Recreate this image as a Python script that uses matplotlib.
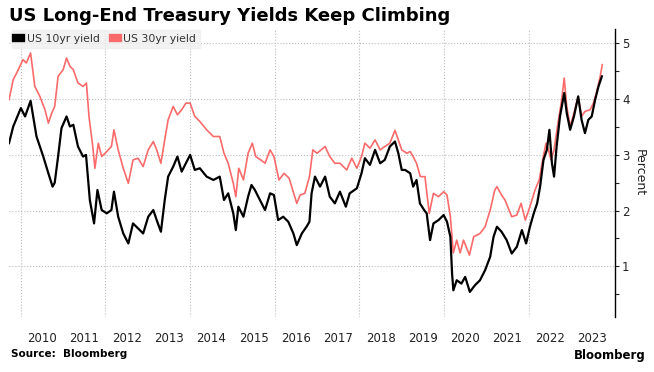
import matplotlib.pyplot as plt
from matplotlib.ticker import FixedLocator, NullFormatter

# dates as decimal years, values in percent
t10 = [2009.72, 2009.82, 2010.0, 2010.1, 2010.23, 2010.37, 2010.53, 2010.65, 2010.75, 2010.8,
       2010.88, 2010.96, 2011.08, 2011.16, 2011.24, 2011.35, 2011.47, 2011.54, 2011.59, 2011.63,
       2011.73, 2011.81, 2011.91, 2012.03, 2012.14, 2012.2, 2012.3, 2012.42, 2012.54, 2012.65,
       2012.77, 2012.89, 2013.01, 2013.13, 2013.21, 2013.31, 2013.4, 2013.48, 2013.6, 2013.7,
       2013.8, 2013.9, 2014.0, 2014.11, 2014.23, 2014.39, 2014.55, 2014.7, 2014.8, 2014.9,
       2015.02, 2015.08, 2015.14, 2015.26, 2015.37, 2015.45, 2015.53, 2015.65, 2015.77, 2015.89,
       2015.98, 2016.08, 2016.2, 2016.32, 2016.44, 2016.52, 2016.64, 2016.75, 2016.82, 2016.87,
       2016.95, 2017.07, 2017.19, 2017.3, 2017.42, 2017.54, 2017.68, 2017.77, 2017.94, 2018.05,
       2018.13, 2018.25, 2018.37, 2018.49, 2018.6, 2018.72, 2018.84, 2018.92, 2019.0, 2019.08,
       2019.2, 2019.27, 2019.35, 2019.43, 2019.53, 2019.59, 2019.67, 2019.75, 2019.87, 2019.99,
       2020.07, 2020.15, 2020.19, 2020.22, 2020.3, 2020.41, 2020.5, 2020.61, 2020.73, 2020.85,
       2020.97, 2021.09, 2021.17, 2021.25, 2021.36, 2021.48, 2021.6, 2021.72, 2021.84, 2021.94,
       2022.03, 2022.12, 2022.2, 2022.27, 2022.35, 2022.43, 2022.49, 2022.55, 2022.6, 2022.66,
       2022.74, 2022.84, 2022.9, 2022.98, 2023.07, 2023.17, 2023.25, 2023.33, 2023.41, 2023.49,
       2023.57, 2023.65, 2023.73]
y10 = [3.21, 3.51, 3.84, 3.69, 3.97, 3.33, 2.97, 2.67, 2.43, 2.5,
       2.97, 3.48, 3.69, 3.51, 3.54, 3.15, 2.97, 3.0, 2.55, 2.19,
       1.77, 2.37, 2.01, 1.95, 2.01, 2.34, 1.89, 1.59, 1.41, 1.77,
       1.68, 1.59, 1.89, 2.01, 1.83, 1.62, 2.19, 2.61, 2.79, 2.97,
       2.70, 2.85, 3.0, 2.73, 2.76, 2.61, 2.55, 2.61, 2.19, 2.31,
       1.95, 1.65, 2.07, 1.89, 2.25, 2.46, 2.37, 2.19, 2.01, 2.31,
       2.28, 1.83, 1.89, 1.8, 1.59, 1.38, 1.59, 1.71, 1.8, 2.31,
       2.61, 2.43, 2.61, 2.25, 2.13, 2.34, 2.07, 2.31, 2.4, 2.67,
       2.94, 2.82, 3.09, 2.85, 2.91, 3.15, 3.24, 3.03, 2.73, 2.73,
       2.67, 2.43, 2.55, 2.13, 2.01, 1.95, 1.47, 1.77, 1.83, 1.92,
       1.8, 1.53, 0.87, 0.57, 0.75, 0.69, 0.81, 0.54, 0.66, 0.75,
       0.93, 1.17, 1.53, 1.71, 1.62, 1.47, 1.23, 1.35, 1.65, 1.41,
       1.71, 1.95, 2.13, 2.43, 2.91, 3.09, 3.45, 2.85, 2.61, 3.15,
       3.69, 4.11, 3.75, 3.45, 3.69, 4.05, 3.63, 3.39, 3.63, 3.69,
       3.99, 4.23, 4.41]

t30 = [2009.72, 2009.82, 2009.94, 2010.05, 2010.13, 2010.23, 2010.33, 2010.45, 2010.57, 2010.65,
       2010.73, 2010.8, 2010.88, 2011.0, 2011.08, 2011.16, 2011.24, 2011.35, 2011.47, 2011.55,
       2011.61, 2011.7, 2011.75, 2011.83, 2011.91, 2012.03, 2012.14, 2012.2, 2012.3, 2012.42,
       2012.54, 2012.65, 2012.77, 2012.89, 2013.01, 2013.13, 2013.21, 2013.31, 2013.4, 2013.48,
       2013.6, 2013.7, 2013.8, 2013.9, 2014.0, 2014.11, 2014.23, 2014.39, 2014.55, 2014.7,
       2014.8, 2014.9, 2015.02, 2015.08, 2015.15, 2015.26, 2015.37, 2015.47, 2015.55, 2015.67,
       2015.77, 2015.89, 2015.98, 2016.1, 2016.22, 2016.34, 2016.52, 2016.6, 2016.71, 2016.82,
       2016.9, 2017.0, 2017.19, 2017.3, 2017.42, 2017.54, 2017.7, 2017.82, 2017.94, 2018.05,
       2018.13, 2018.25, 2018.37, 2018.49, 2018.6, 2018.72, 2018.84, 2018.92, 2019.0, 2019.12,
       2019.2, 2019.27, 2019.35, 2019.44, 2019.55, 2019.65, 2019.75, 2019.87, 2019.99, 2020.07,
       2020.15, 2020.22, 2020.3, 2020.38, 2020.46, 2020.6, 2020.7, 2020.85, 2020.97, 2021.09,
       2021.2, 2021.25, 2021.36, 2021.44, 2021.6, 2021.72, 2021.82, 2021.92, 2022.03, 2022.15,
       2022.25, 2022.33, 2022.41, 2022.47, 2022.53, 2022.6, 2022.68, 2022.78, 2022.84, 2022.9,
       2022.98, 2023.07, 2023.17, 2023.25, 2023.33, 2023.45, 2023.53, 2023.6, 2023.69, 2023.74]
y30 = [3.99, 4.35, 4.53, 4.71, 4.65, 4.83, 4.23, 4.05, 3.81, 3.57,
       3.75, 3.87, 4.41, 4.53, 4.74, 4.59, 4.53, 4.29, 4.23, 4.29,
       3.69, 3.15, 2.76, 3.21, 2.97, 3.06, 3.15, 3.45, 3.09, 2.76,
       2.49, 2.91, 2.94, 2.79, 3.09, 3.24, 3.09, 2.85, 3.27, 3.63,
       3.87, 3.72, 3.81, 3.93, 3.93, 3.69, 3.6, 3.45, 3.33, 3.33,
       3.03, 2.85, 2.49, 2.25, 2.76, 2.55, 3.03, 3.21, 2.97, 2.91,
       2.85, 3.09, 2.97, 2.55, 2.67, 2.58, 2.13, 2.28, 2.31, 2.61,
       3.09, 3.03, 3.15, 2.97, 2.85, 2.85, 2.73, 2.94, 2.76, 2.97,
       3.21, 3.12, 3.27, 3.09, 3.15, 3.21, 3.44, 3.27, 3.09, 3.03,
       3.06, 2.97, 2.85, 2.61, 2.61, 1.95, 2.31, 2.25, 2.34, 2.28,
       1.89, 1.24, 1.47, 1.24, 1.47, 1.2, 1.53, 1.59, 1.71, 2.01,
       2.37, 2.43, 2.28, 2.19, 1.89, 1.92, 2.13, 1.83, 2.07, 2.37,
       2.55, 2.91, 3.21, 3.09, 2.91, 3.09, 3.51, 3.99, 4.38, 3.87,
       3.51, 3.75, 4.05, 3.69, 3.78, 3.81, 3.93, 4.11, 4.41, 4.62]

years = list(range(2010, 2024))
grid_years = [2010, 2012, 2014, 2016, 2018, 2020, 2022]

red = '#f96b6b'

fig = plt.figure(figsize=(6.54, 3.72), dpi=100)
ax = fig.add_axes([9 / 654, 1 - 317 / 372, (615 - 9) / 654, (317 - 29) / 372])

ax.plot(t30, y30, color=red, lw=1.2, zorder=3)
ax.plot(t10, y10, color='black', lw=1.6, zorder=4)

ax.set_xlim(2009.72, 2024.04)
ax.set_ylim(0.09, 5.26)

for s in ['left', 'top', 'bottom']:
    ax.spines[s].set_visible(False)
ax.spines['right'].set_linewidth(1.0)

ax.yaxis.tick_right()
ax.yaxis.set_label_position('right')
ax.set_yticks([1, 2, 3, 4, 5])
ax.yaxis.set_minor_locator(FixedLocator([0.5, 1.5, 2.5, 3.5, 4.5]))
ax.tick_params(axis='y', which='both', direction='out', length=3, width=0.8,
               labelsize=8.5, pad=2, colors='#222222')
ax.set_ylabel('Percent', rotation=270, labelpad=12, fontsize=9, color='#222222')

ax.set_xticks([y + 0.5 for y in years])
ax.set_xticklabels([str(y) for y in years])
ax.xaxis.set_minor_locator(FixedLocator(grid_years))
ax.xaxis.set_minor_formatter(NullFormatter())
ax.tick_params(axis='x', which='both', length=0, labelsize=8.5, pad=11, colors='#222222')

ax.grid(axis='y', which='major', color='#bbbbbb', ls=':', lw=0.8)
ax.grid(axis='x', which='minor', color='#bbbbbb', ls=':', lw=0.8)
ax.set_axisbelow(True)

# legend box
leg = ax.legend(['US 10yr yield', 'US 30yr yield'], loc='upper left',
                bbox_to_anchor=(2 / 606, 1.0), ncol=2, fontsize=7.8,
                frameon=True, fancybox=False, handlelength=0.5, handleheight=0.6,
                handletextpad=0.5, columnspacing=1.2, borderpad=0.35, borderaxespad=0.1)
leg.get_frame().set_facecolor('#efefef')
leg.get_frame().set_edgecolor('#efefef')
for h, c in zip(leg.legend_handles, ['black', red]):
    h.set_linewidth(6)
    h.set_color(c)
for txt in leg.get_texts():
    txt.set_color('#333333')

fig.text(9 / 654, 1 - 16 / 372, 'US Long-End Treasury Yields Keep Climbing',
         fontsize=13, fontweight='bold', ha='left', va='center')
fig.text(11 / 654, 1 - 354 / 372, 'Source:  Bloomberg', fontsize=7.5,
         fontweight='bold', ha='left', va='center')
fig.text(646 / 654, 1 - 356 / 372, 'Bloomberg', fontsize=8.5, fontweight='bold',
         ha='right', va='center')

fig.savefig('out.png', dpi=100)
